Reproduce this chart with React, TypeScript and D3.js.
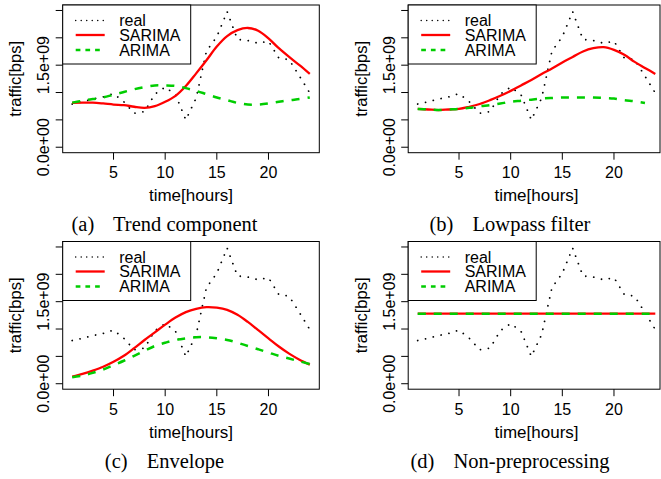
import * as d3 from 'd3';

// hours on the x axis
const hours = [1, 2, 3, 4, 5, 6, 7, 8, 9, 10, 11, 12, 13, 14, 15, 16, 17, 18, 19, 20, 21, 22, 23, 24];

// measured traffic, same in every panel (bps)
const realTraffic = [
  0.79e9, 0.83e9, 0.88e9, 0.92e9, 0.98e9, 0.83e9, 0.62e9, 0.65e9, 0.97e9, 1.1e9, 0.96e9, 0.5e9,
  0.9e9, 1.76e9, 2.02e9, 2.48e9, 1.97e9, 1.95e9, 1.9e9, 1.94e9, 1.63e9, 1.6e9, 1.3e9, 0.99e9,
];

// (a) trend component
const trendSarima = [
  0.81e9, 0.815e9, 0.815e9, 0.8e9, 0.78e9, 0.77e9, 0.74e9, 0.72e9, 0.75e9, 0.83e9, 0.94e9, 1.12e9,
  1.35e9, 1.59e9, 1.84e9, 2.03e9, 2.14e9, 2.18e9, 2.13e9, 1.99e9, 1.81e9, 1.65e9, 1.5e9, 1.34e9,
];
const trendArima = [
  0.815e9, 0.85e9, 0.88e9, 0.91e9, 0.96e9, 1.01e9, 1.06e9, 1.1e9, 1.13e9, 1.13e9, 1.12e9, 1.08e9,
  1.03e9, 0.97e9, 0.91e9, 0.86e9, 0.81e9, 0.78e9, 0.78e9, 0.8e9, 0.83e9, 0.86e9, 0.88e9, 0.91e9,
];

// (b) lowpass filter
const lowpassSarima = [
  0.7e9, 0.69e9, 0.68e9, 0.69e9, 0.7e9, 0.74e9, 0.79e9, 0.86e9, 0.94e9, 1.03e9, 1.13e9, 1.23e9,
  1.34e9, 1.44e9, 1.55e9, 1.65e9, 1.75e9, 1.81e9, 1.83e9, 1.78e9, 1.69e9, 1.56e9, 1.45e9, 1.34e9,
];
const lowpassArima = [
  0.7e9, 0.69e9, 0.68e9, 0.69e9, 0.7e9, 0.72e9, 0.75e9, 0.77e9, 0.8e9, 0.83e9, 0.85e9, 0.87e9,
  0.89e9, 0.9e9, 0.91e9, 0.91e9, 0.91e9, 0.91e9, 0.9e9, 0.89e9, 0.86e9, 0.84e9, 0.81e9,
];

// (c) envelope
const envelopeSarima = [
  0.13e9, 0.18e9, 0.24e9, 0.31e9, 0.4e9, 0.51e9, 0.65e9, 0.8e9, 0.94e9, 1.08e9, 1.21e9, 1.31e9,
  1.37e9, 1.4e9, 1.39e9, 1.35e9, 1.26e9, 1.13e9, 0.98e9, 0.83e9, 0.68e9, 0.55e9, 0.44e9, 0.35e9,
];
const envelopeArima = [
  0.12e9, 0.15e9, 0.2e9, 0.26e9, 0.34e9, 0.42e9, 0.51e9, 0.6e9, 0.69e9, 0.75e9, 0.8e9, 0.83e9,
  0.85e9, 0.85e9, 0.83e9, 0.8e9, 0.75e9, 0.69e9, 0.63e9, 0.57e9, 0.51e9, 0.46e9, 0.41e9, 0.36e9,
];

// (d) non-preprocessing
const rawSarima = [
  1.28e9, 1.28e9, 1.28e9, 1.28e9, 1.28e9, 1.28e9, 1.28e9, 1.28e9, 1.28e9, 1.28e9, 1.28e9, 1.28e9,
  1.28e9, 1.28e9, 1.28e9, 1.28e9, 1.28e9, 1.28e9, 1.28e9, 1.28e9, 1.28e9, 1.28e9, 1.28e9, 1.28e9,
];
const rawArima = [
  1.28e9, 1.28e9, 1.28e9, 1.28e9, 1.28e9, 1.28e9, 1.28e9, 1.28e9, 1.28e9, 1.28e9, 1.28e9, 1.28e9,
  1.28e9, 1.28e9, 1.28e9, 1.28e9, 1.28e9, 1.28e9, 1.28e9, 1.28e9, 1.28e9, 1.28e9, 1.28e9, 1.28e9,
];

const xTicks = [5, 10, 15, 20];
const yTicks = [0, 0.5e9, 1e9, 1.5e9, 2e9, 2.5e9];
const yTickLabels = ['0.0e+00', '', '', '1.5e+09', '', ''];
const legendLabels = ['real', 'SARIMA', 'ARIMA'];

const SANS = '"Liberation Sans", Arial, Helvetica, sans-serif';
const SERIF = '"Liberation Serif", "Times New Roman", serif';
const RED = '#ff0000';
const GREEN = '#00cd00';

// plot box inside a panel
const boxLeft = 62.7;
const boxTop = 5;
const boxW = 256.6;
const boxH = 147.7;

const x = d3.scaleLinear().domain([0.08, 24.92]).range([0, boxW]);
const y = d3.scaleLinear().domain([-1e8, 2.6e9]).range([boxH, 0]);

const straight = d3
  .line<number>()
  .x((_, i) => x(hours[i]))
  .y(d => y(d));
const smooth = d3
  .line<number>()
  .x((_, i) => x(hours[i]))
  .y(d => y(d))
  .curve(d3.curveCatmullRom);

interface PanelProps {
  ox: number;
  oy: number;
  tag: string;
  caption: string;
  sarima: number[];
  arima: number[];
}

function Panel({ ox, oy, tag, caption, sarima, arima }: PanelProps) {
  const bw = Math.min(boxW, 660 - ox - boxLeft);
  const rows = [20.5, 35, 50];
  return (
    <g transform={`translate(${ox},${oy})`}>
      <g transform={`translate(${boxLeft},${boxTop})`}>
        <path d={straight(realTraffic) || ''} fill="none" stroke="#000" strokeWidth={1.8}
          strokeDasharray="0.01 8" strokeLinecap="round" />
        <path d={smooth(sarima) || ''} fill="none" stroke={RED} strokeWidth={2.3} />
        <path d={smooth(arima) || ''} fill="none" stroke={GREEN} strokeWidth={2.5} strokeDasharray="8 8" />
        <rect x={0} y={0} width={bw} height={boxH} fill="none" stroke="#000" strokeWidth={1} />

        {/* y axis */}
        {yTicks.map((t, i) => (
          <g key={t}>
            <line x1={-7} x2={0} y1={y(t)} y2={y(t)} stroke="#000" />
            {yTickLabels[i] && (
              <text transform={`translate(${49 - boxLeft},${y(t)}) rotate(-90)`} textAnchor="middle"
                fontFamily={SANS} fontSize={16} fill="#000">{yTickLabels[i]}</text>
            )}
          </g>
        ))}

        {/* x axis */}
        {xTicks.map(t => (
          <g key={t}>
            <line x1={x(t)} x2={x(t)} y1={boxH} y2={boxH + 7} stroke="#000" />
            <text x={x(t)} y={178 - boxTop} textAnchor="middle" fontFamily={SANS} fontSize={16} fill="#000">{t}</text>
          </g>
        ))}

        {/* legend */}
        <rect x={0} y={0} width={128} height={59} fill="#fff" stroke="#000" strokeWidth={1} />
        {legendLabels.map((label, i) => (
          <g key={label}>
            {i === 0 && <line x1={13} x2={42} y1={rows[i] - boxTop} y2={rows[i] - boxTop} stroke="#000"
              strokeWidth={1.5} strokeDasharray="0.01 5.5" strokeLinecap="round" />}
            {i === 1 && <line x1={13} x2={42} y1={rows[i] - boxTop} y2={rows[i] - boxTop} stroke={RED} strokeWidth={2.3} />}
            {i === 2 && <line x1={13} x2={42} y1={rows[i] - boxTop} y2={rows[i] - boxTop} stroke={GREEN}
              strokeWidth={2.5} strokeDasharray="4.7 5" />}
            <text x={56.5} y={rows[i] - boxTop + 5.6} fontFamily={SANS} fontSize={16} fill="#000">{label}</text>
          </g>
        ))}
      </g>

      <text transform={`translate(21,${boxTop + boxH / 2}) rotate(-90)`} textAnchor="middle"
        fontFamily={SANS} fontSize={16.5} fill="#000">traffic[bps]</text>
      <text x={boxLeft + boxW / 2} y={201} textAnchor="middle" fontFamily={SANS} fontSize={17} fill="#000">time[hours]</text>
      <text x={164.5} y={231} textAnchor="middle" fontFamily={SERIF} fontSize={20.5} fill="#000">
        <tspan>{tag}</tspan>
        <tspan dx={14}>{' ' + caption}</tspan>
      </text>
    </g>
  );
}

export default function App() {
  return (
    <svg width={661} height={479} style={{ position: 'absolute', left: 0, top: 0, background: '#fff' }}>
      <Panel ox={0} oy={0} tag="(a)" caption="Trend component" sarima={trendSarima} arima={trendArima} />
      <Panel ox={345.5} oy={0} tag="(b)" caption="Lowpass filter" sarima={lowpassSarima} arima={lowpassArima} />
      <Panel ox={0} oy={236.5} tag="(c)" caption="Envelope" sarima={envelopeSarima} arima={envelopeArima} />
      <Panel ox={345.5} oy={236.5} tag="(d)" caption="Non-preprocessing" sarima={rawSarima} arima={rawArima} />
    </svg>
  );
}
